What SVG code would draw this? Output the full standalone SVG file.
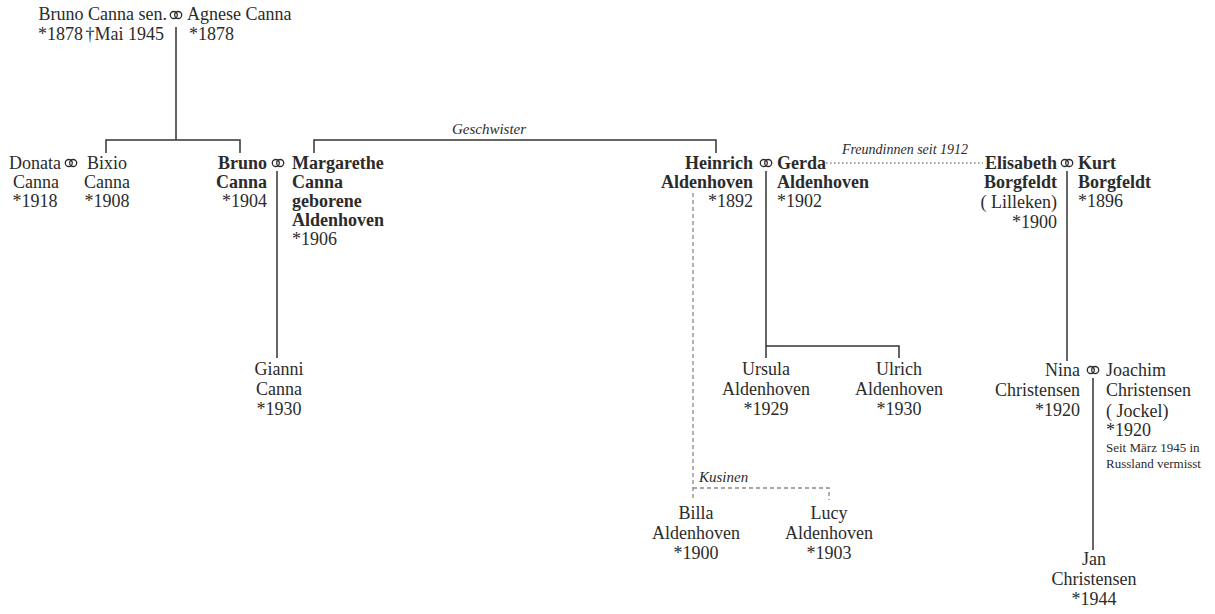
<svg xmlns="http://www.w3.org/2000/svg" width="1215" height="614" viewBox="0 0 1215 614">
<style>
text{font-family:"Liberation Serif","Times New Roman",serif;font-size:18px;fill:#2b2b2b}
.b{font-weight:bold}
.i{font-style:italic;font-size:15px}
.s{font-size:13px}
.r{text-anchor:end}
.m{text-anchor:middle}
.ln{stroke:#333;stroke-width:1.5;fill:none}
.ds{stroke:#8a8a8a;stroke-width:1.3;fill:none;stroke-dasharray:4 3}
.dt{stroke:#8a8a8a;stroke-width:1.6;fill:none;stroke-dasharray:1.6 2.4}
.ring{stroke:#2b2b2b;stroke-width:1.3;fill:none}
</style>
<defs>
<g id="rings"><circle class="ring" cx="-2.2" cy="0" r="3.5"/><circle class="ring" cx="2.2" cy="0" r="3.5"/></g>
</defs>
<rect width="1215" height="614" fill="#fff"/>
<g id="connectors">
<path class="ln" d="M176 27V140M106 153V140H240V153"/>
<path class="ln" d="M314 153V140H716V153"/>
<path class="ln" d="M277 171V358"/>
<path class="ln" d="M766 171V358M766 346H899V358"/>
<path class="ln" d="M1067 171V361"/>
<path class="ln" d="M1093 378V550"/>
<path class="dt" d="M826 163H983"/>
<path class="ds" d="M693 193V500M693 488H829V500"/>
<text class="i m" x="489" y="134">Geschwister</text>
<text class="i m" x="905" y="154" style="font-size:14px">Freundinnen seit 1912</text>
<text class="i" x="699" y="482">Kusinen</text>
</g>
<g id="bruno-sen"><text class="r" x="167" y="20">Bruno Canna sen.</text><text x="38" y="40">*1878</text><text class="r" x="164" y="40">†Mai 1945</text></g>
<use id="m-top" href="#rings" x="176" y="15"/>
<g id="agnese"><text x="187" y="20">Agnese Canna</text><text x="189" y="40">*1878</text></g>
<g id="donata"><text class="m" x="35" y="169">Donata</text><text class="m" x="36" y="188">Canna</text><text class="m" x="35" y="207">*1918</text></g>
<use id="m-bixio" href="#rings" x="71" y="163"/>
<g id="bixio"><text class="m" x="107" y="169">Bixio</text><text class="m" x="107" y="188">Canna</text><text class="m" x="107" y="207">*1908</text></g>
<g id="bruno"><text class="b r" x="267" y="169">Bruno</text><text class="b r" x="267" y="188">Canna</text><text class="r" x="267" y="207">*1904</text></g>
<use id="m-bruno" href="#rings" x="278" y="163"/>
<g id="margarethe"><text class="b" x="292" y="169">Margarethe</text><text class="b" x="292" y="188">Canna</text><text class="b" x="292" y="207">geborene</text><text class="b" x="292" y="226">Aldenhoven</text><text x="292" y="245">*1906</text></g>
<g id="heinrich"><text class="b r" x="753" y="169">Heinrich</text><text class="b r" x="753" y="188">Aldenhoven</text><text class="r" x="753" y="207">*1892</text></g>
<use id="m-heinrich" href="#rings" x="766" y="163"/>
<g id="gerda"><text class="b" x="777" y="169">Gerda</text><text class="b" x="777" y="188">Aldenhoven</text><text x="777" y="207">*1902</text></g>
<g id="elisabeth"><text class="b r" x="1057" y="169">Elisabeth</text><text class="b r" x="1057" y="188">Borgfeldt</text><text class="r" x="1057" y="208">( Lilleken)</text><text class="r" x="1057" y="228">*1900</text></g>
<use id="m-elisabeth" href="#rings" x="1067" y="163"/>
<g id="kurt"><text class="b" x="1078" y="169">Kurt</text><text class="b" x="1078" y="188">Borgfeldt</text><text x="1078" y="207">*1896</text></g>
<g id="gianni"><text class="m" x="279" y="375">Gianni</text><text class="m" x="279" y="395">Canna</text><text class="m" x="279" y="415">*1930</text></g>
<g id="ursula"><text class="m" x="766" y="375">Ursula</text><text class="m" x="766" y="395">Aldenhoven</text><text class="m" x="766" y="415">*1929</text></g>
<g id="ulrich"><text class="m" x="899" y="375">Ulrich</text><text class="m" x="899" y="395">Aldenhoven</text><text class="m" x="899" y="415">*1930</text></g>
<g id="nina"><text class="r" x="1080" y="376">Nina</text><text class="r" x="1080" y="396">Christensen</text><text class="r" x="1080" y="416">*1920</text></g>
<use id="m-nina" href="#rings" x="1093" y="370"/>
<g id="joachim"><text x="1106" y="376">Joachim</text><text x="1106" y="396">Christensen</text><text x="1106" y="417">( Jockel)</text><text x="1106" y="436">*1920</text><text class="s" x="1106" y="452">Seit März 1945 in</text><text class="s" x="1106" y="468">Russland vermisst</text></g>
<g id="billa"><text class="m" x="696" y="519">Billa</text><text class="m" x="696" y="539">Aldenhoven</text><text class="m" x="696" y="559">*1900</text></g>
<g id="lucy"><text class="m" x="829" y="519">Lucy</text><text class="m" x="829" y="539">Aldenhoven</text><text class="m" x="829" y="559">*1903</text></g>
<g id="jan"><text class="m" x="1094" y="565">Jan</text><text class="m" x="1094" y="585">Christensen</text><text class="m" x="1094" y="605">*1944</text></g>
</svg>
